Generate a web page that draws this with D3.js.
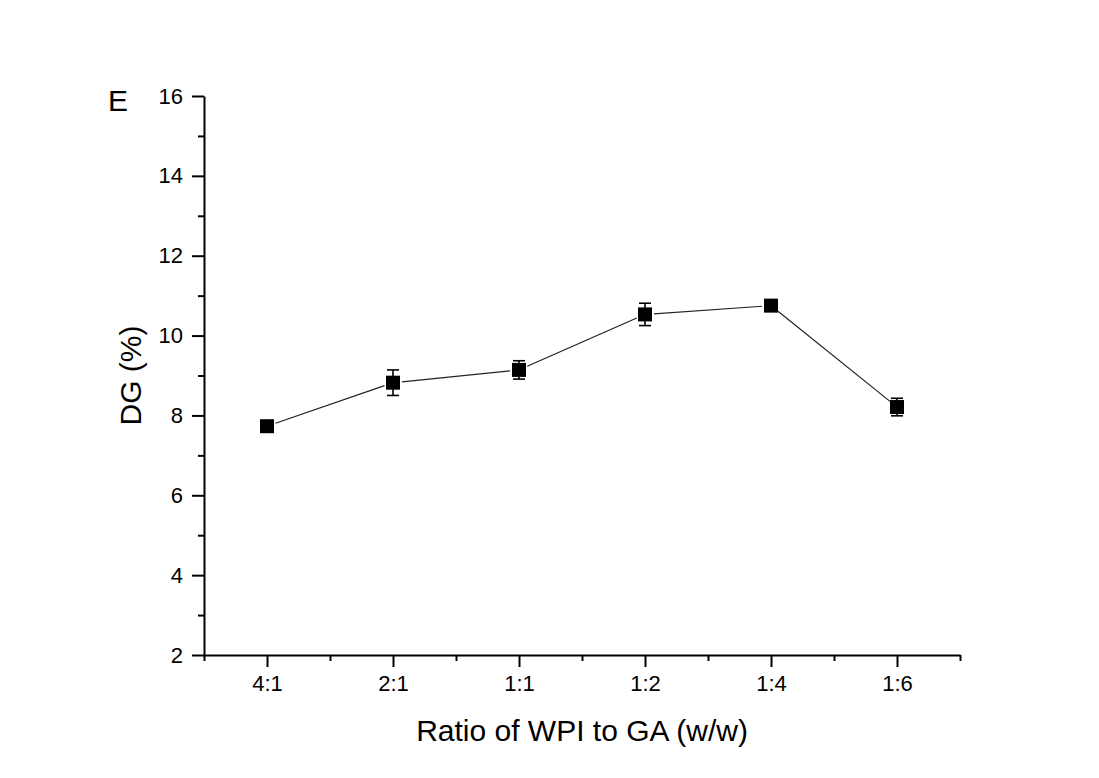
<!DOCTYPE html>
<html>
<head>
<meta charset="utf-8">
<script src="https://cdn.jsdelivr.net/npm/d3@7"></script>
<style>
  html, body { margin: 0; padding: 0; background: #fff; }
  svg { display: block; }
  text { font-family: "Liberation Sans", Arial, sans-serif; fill: #000; }
</style>
</head>
<body>
<svg id="chart" width="1099" height="778"></svg>
<script>
const categories = ["4:1", "2:1", "1:1", "1:2", "1:4", "1:6"];
const dgValues = [7.73, 8.82, 9.14, 10.53, 10.75, 8.21];
const dgErrors = [0.10, 0.32, 0.23, 0.28, 0.12, 0.22];
const yTicks = [2, 4, 6, 8, 10, 12, 14, 16];
const yMinorTicks = [3, 5, 7, 9, 11, 13, 15];
const xLabel = "Ratio of WPI to GA (w/w)";
const yLabel = "DG (%)";
const panelLabel = "E";

(function () {
const svg = d3.select("#chart");
const mLeft = 204, mRight = 960, mTop = 96, mBottom = 655;

const x = d3.scaleLinear().domain([0.5, categories.length + 0.5]).range([mLeft, mRight]);
const y = d3.scaleLinear().domain([2, 16]).range([mBottom, mTop]);

// Y axis
const yAxis = d3.axisLeft(y).tickValues(yTicks).tickSize(12).tickPadding(9).tickSizeOuter(0);
const gy = svg.append("g").attr("transform", `translate(${mLeft},0)`).call(yAxis);
gy.select(".domain").attr("stroke", "#000").attr("stroke-width", 2);
gy.selectAll(".tick line").attr("stroke", "#000").attr("stroke-width", 2);
gy.selectAll(".tick text").style("font-size", "22px").attr("fill", "#000");
const gym = svg.append("g").attr("transform", `translate(${mLeft},0)`)
  .call(d3.axisLeft(y).tickValues(yMinorTicks).tickSize(6).tickFormat("").tickSizeOuter(0));
gym.select(".domain").remove();
gym.selectAll(".tick line").attr("stroke", "#000").attr("stroke-width", 2);

// X axis
const xMajor = categories.map((d, i) => i + 1);
const xAxis = d3.axisBottom(x).tickValues(xMajor).tickFormat(d => categories[d - 1])
  .tickSize(12).tickPadding(8).tickSizeOuter(0);
const gx = svg.append("g").attr("transform", `translate(0,${mBottom})`).call(xAxis);
gx.select(".domain").attr("stroke", "#000").attr("stroke-width", 2);
gx.selectAll(".tick line").attr("stroke", "#000").attr("stroke-width", 2);
gx.selectAll(".tick text").style("font-size", "22px").attr("fill", "#000");
const xMinor = d3.range(0.5, categories.length + 0.6, 1);
const gxm = svg.append("g").attr("transform", `translate(0,${mBottom})`)
  .call(d3.axisBottom(x).tickValues(xMinor).tickSize(6).tickFormat("").tickSizeOuter(0));
gxm.select(".domain").remove();
gxm.selectAll(".tick line").attr("stroke", "#000").attr("stroke-width", 2);

// Axis titles
svg.append("text").attr("x", 582).attr("y", 741)
  .attr("text-anchor", "middle").style("font-size", "30px").text(xLabel);
svg.append("text").attr("transform", `translate(141,${(mTop + mBottom) / 2}) rotate(-90)`)
  .attr("text-anchor", "middle").style("font-size", "30px").text(yLabel);
svg.append("text").attr("x", 108).attr("y", 111).style("font-size", "30px").text(panelLabel);

// Data
const pts = dgValues.map((v, i) => ({ cx: x(i + 1), cy: y(v) }));
const gap = 9;
for (let i = 0; i < pts.length - 1; i++) {
  const a = pts[i], b = pts[i + 1];
  const dx = b.cx - a.cx, dy = b.cy - a.cy, len = Math.hypot(dx, dy);
  const ux = dx / len, uy = dy / len;
  svg.append("line")
    .attr("x1", a.cx + ux * gap).attr("y1", a.cy + uy * gap)
    .attr("x2", b.cx - ux * gap).attr("y2", b.cy - uy * gap)
    .attr("stroke", "#222").attr("stroke-width", 1.2);
}

const eb = svg.append("g").attr("stroke", "#000").attr("stroke-width", 1.6);
pts.forEach((p, i) => {
  const yt = y(dgValues[i] + dgErrors[i]), yb = y(dgValues[i] - dgErrors[i]);
  eb.append("line").attr("x1", p.cx).attr("x2", p.cx).attr("y1", yt).attr("y2", yb);
  eb.append("line").attr("x1", p.cx - 6).attr("x2", p.cx + 6).attr("y1", yt).attr("y2", yt);
  eb.append("line").attr("x1", p.cx - 6).attr("x2", p.cx + 6).attr("y1", yb).attr("y2", yb);
});

const ms = 14;
svg.append("g").selectAll("rect").data(pts).join("rect")
  .attr("x", d => d.cx - ms / 2).attr("y", d => d.cy - ms / 2)
  .attr("width", ms).attr("height", ms).attr("fill", "#000");
})();
</script>
</body>
</html>
